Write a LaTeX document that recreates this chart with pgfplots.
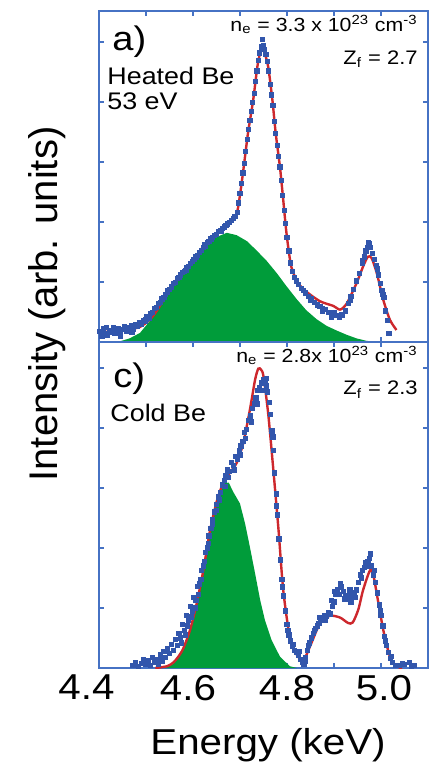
\documentclass[border=0pt]{standalone}
\usepackage{fontspec}
\setmainfont{Liberation Sans}[FakeStretch=1.12]
\newfontfamily\ylabfont{Liberation Sans}
\usepackage{pgfplots}
\pgfplotsset{compat=1.18}

\definecolor{axisBlue}{RGB}{70,114,196}
\definecolor{dataBlue}{RGB}{50,86,172}
\definecolor{fitRed}{RGB}{205,40,45}
\definecolor{bandGreen}{RGB}{0,156,58}

% invisible spacer used to nudge individual tick labels sideways
\newcommand{\pad}[1]{\rule{#1}{0pt}}

\pgfplotsset{
  panel/.style={
    scale only axis, width=164.5pt,
    xmin=4.4, xmax=5.1, ymin=0,
    axis line style={axisBlue, line width=0.9pt},
    tick style={axisBlue, line width=0.7pt},
    tick align=inside, xtick pos=both, ytick pos=both,
    major tick length=2.6pt, minor tick length=2.6pt,
    ytick={1,2,3,4,5}, yticklabels={},
    /pgf/number format/assume math mode=true,
  },
  data/.style={only marks, mark=square*, mark size=1.05pt, color=dataBlue},
  fit/.style={fitRed, line width=1.2pt, smooth, tension=0.45},
  band/.style={fill=bandGreen, draw=none},
}

\begin{document}
\begin{tikzpicture}
\useasboundingbox (0,0) rectangle (220pt,384pt);

% ---------------- panel a) : heated Be ----------------
\begin{axis}[panel, at={(49.5pt,213pt)}, anchor=south west,
  height=165.5pt, ymax=5.517,
  xtick={4.4,4.5,4.6,4.7,4.8,4.9,5.0,5.1}, xticklabels={}]
\addplot[band] coordinates {
 (4.440,0.00) (4.465,0.06) (4.487,0.15) (4.505,0.32) (4.523,0.50) (4.540,0.72)
 (4.558,0.95) (4.576,1.15) (4.594,1.33) (4.612,1.49) (4.629,1.62) (4.650,1.75)
 (4.672,1.82) (4.693,1.78) (4.715,1.68) (4.736,1.52) (4.757,1.35) (4.778,1.15)
 (4.799,0.93) (4.820,0.72) (4.841,0.53) (4.863,0.38) (4.884,0.27) (4.906,0.19)
 (4.927,0.12) (4.948,0.06) (4.969,0.02) (4.990,0.00)
} \closedcycle;
\addplot[fit] coordinates {
 (4.400,0.16) (4.430,0.18) (4.460,0.21) (4.487,0.25) (4.509,0.38) (4.523,0.52)
 (4.537,0.70) (4.551,0.88) (4.565,1.04) (4.580,1.18) (4.594,1.31) (4.608,1.45)
 (4.622,1.59) (4.636,1.71) (4.650,1.81) (4.665,1.91) (4.679,2.00) (4.693,2.14)
 (4.700,2.45) (4.708,2.92) (4.717,3.48) (4.728,4.03) (4.737,4.59) (4.743,4.82)
 (4.748,4.88) (4.753,4.80) (4.760,4.59) (4.769,4.03) (4.776,3.48) (4.785,2.92)
 (4.792,2.37) (4.799,1.81) (4.809,1.26) (4.824,0.98) (4.841,0.84) (4.870,0.68)
 (4.899,0.60) (4.913,0.54) (4.927,0.64) (4.948,0.98) (4.962,1.26) (4.972,1.42)
 (4.980,1.40) (4.991,1.15) (5.005,0.70) (5.019,0.37) (5.033,0.20)
};
\addplot[data] coordinates {
 (4.402,0.18) (4.406,0.10) (4.410,0.22) (4.414,0.15) (4.418,0.12) (4.422,0.20)
 (4.426,0.16) (4.430,0.24) (4.434,0.14) (4.438,0.19) (4.442,0.23) (4.446,0.15)
 (4.450,0.21) (4.454,0.26) (4.458,0.18) (4.462,0.24) (4.466,0.20) (4.470,0.28)
 (4.474,0.22) (4.478,0.30) (4.482,0.26) (4.486,0.33) (4.490,0.30) (4.494,0.36)
 (4.498,0.34) (4.502,0.42) (4.506,0.40) (4.510,0.48) (4.514,0.50) (4.518,0.56)
 (4.522,0.58) (4.526,0.64) (4.530,0.66) (4.534,0.72) (4.538,0.74) (4.542,0.80)
 (4.546,0.83) (4.550,0.88) (4.554,0.92) (4.558,0.98) (4.562,1.00) (4.566,1.06)
 (4.570,1.08) (4.574,1.12) (4.578,1.16) (4.582,1.18) (4.586,1.24) (4.590,1.26)
 (4.594,1.31) (4.598,1.35) (4.602,1.38) (4.606,1.42) (4.610,1.45) (4.614,1.50)
 (4.618,1.53) (4.622,1.58) (4.626,1.60) (4.630,1.66) (4.634,1.68) (4.638,1.72)
 (4.642,1.74) (4.646,1.78) (4.650,1.80) (4.654,1.84) (4.658,1.86) (4.662,1.89)
 (4.666,1.92) (4.670,1.95) (4.674,1.97) (4.678,2.00) (4.682,2.03) (4.686,2.06)
 (4.690,2.10) (4.694,2.16) (4.697,2.32) (4.700,2.48) (4.703,2.64) (4.706,2.82)
 (4.709,2.98) (4.712,3.18) (4.715,3.38) (4.718,3.55) (4.721,3.70) (4.724,3.85)
 (4.727,4.00) (4.730,4.15) (4.733,4.35) (4.736,4.52) (4.739,4.70) (4.742,4.82)
 (4.745,4.92) (4.747,5.05) (4.749,4.95) (4.752,4.88) (4.755,4.80) (4.758,4.68)
 (4.761,4.52) (4.764,4.30) (4.767,4.12) (4.770,3.95) (4.773,3.68) (4.776,3.48)
 (4.779,3.28) (4.782,3.10) (4.785,2.92) (4.788,2.70) (4.791,2.45) (4.794,2.20)
 (4.797,1.98) (4.800,1.75) (4.804,1.52) (4.808,1.32) (4.812,1.18) (4.816,1.08)
 (4.820,1.02) (4.825,0.96) (4.830,0.90) (4.835,0.86) (4.840,0.82) (4.846,0.76)
 (4.852,0.72) (4.858,0.66) (4.864,0.62) (4.870,0.60) (4.876,0.56) (4.882,0.54)
 (4.888,0.50) (4.894,0.48) (4.900,0.50) (4.906,0.44) (4.912,0.42) (4.918,0.44)
 (4.924,0.52) (4.930,0.64) (4.936,0.76) (4.942,0.88) (4.948,1.02) (4.954,1.15)
 (4.960,1.32) (4.964,1.42) (4.968,1.52) (4.972,1.58) (4.975,1.64) (4.978,1.58)
 (4.982,1.48) (4.986,1.38) (4.990,1.28) (4.994,1.12) (4.998,0.98) (5.002,0.86)
 (5.006,0.74) (5.010,0.52) (5.014,0.36) (5.017,0.14)
 (4.415,0.25) (4.445,0.09) (4.470,0.16) (4.500,0.38) (4.545,0.86) (4.585,1.20)
 (4.625,1.63) (4.660,1.85) (4.688,2.09) (4.850,0.70) (4.875,0.52) (4.895,0.42)
 (4.915,0.46) (4.935,0.70) (4.960,1.36) (4.973,1.66) (4.992,1.22) (5.004,0.80)
};
\end{axis}

% ---------------- panel c) : cold Be ----------------
\begin{axis}[panel, at={(49.5pt,50pt)}, anchor=south west,
  height=163pt, ymax=5.433,
  xtick={4.4,4.6,4.8,5.0},
  xticklabels={4.4\pad{12.5pt}, 4.6\pad{5pt}, 4.8, \pad{3pt}5.0},
  minor xtick={4.5,4.7,4.9,5.1},
  xticklabel style={font=\fontsize{18}{21}\selectfont}]
\addplot[band] coordinates {
 (4.540,0.00) (4.556,0.06) (4.565,0.13) (4.579,0.30) (4.594,0.63) (4.608,1.08)
 (4.622,1.63) (4.636,2.25) (4.650,2.72) (4.660,2.98) (4.668,3.08) (4.676,3.09)
 (4.686,2.93) (4.700,2.74) (4.711,2.40) (4.721,2.02) (4.732,1.58) (4.743,1.13)
 (4.753,0.80) (4.767,0.47) (4.785,0.19) (4.806,0.03) (4.821,0.00)
} \closedcycle;
\addplot[fit] coordinates {
 (4.520,0.00) (4.545,0.03) (4.558,0.09) (4.568,0.18) (4.579,0.32) (4.594,0.64)
 (4.608,1.08) (4.622,1.63) (4.636,2.28) (4.650,2.76) (4.664,3.08) (4.679,3.26)
 (4.693,3.42) (4.707,3.75) (4.721,4.30) (4.732,4.80) (4.739,4.99) (4.745,4.97)
 (4.750,4.86) (4.760,4.24) (4.771,3.30) (4.782,2.30) (4.792,1.30) (4.806,0.52)
 (4.821,0.22) (4.835,0.13) (4.849,0.36) (4.870,0.74) (4.891,0.87) (4.913,0.84)
 (4.930,0.75) (4.940,0.76) (4.952,0.98) (4.962,1.30) (4.977,1.63) (4.985,1.50)
 (4.991,1.24) (5.005,0.63) (5.019,0.19) (5.033,0.03) (5.045,0.00)
};
\addplot[data] coordinates {
 (4.472,0.05) (4.478,0.10) (4.484,0.03) (4.490,0.08) (4.495,0.14) (4.500,0.06)
 (4.505,0.12) (4.510,0.04) (4.514,0.18) (4.518,0.09) (4.522,0.15) (4.526,0.06)
 (4.530,0.22) (4.534,0.12) (4.538,0.28) (4.542,0.18) (4.546,0.32) (4.550,0.24)
 (4.554,0.40) (4.558,0.30) (4.562,0.48) (4.566,0.38) (4.570,0.58) (4.574,0.50)
 (4.578,0.72) (4.582,0.62) (4.586,0.88) (4.590,0.80) (4.594,1.02) (4.598,0.95)
 (4.602,1.18) (4.606,1.12) (4.610,1.36) (4.614,1.40) (4.618,1.62) (4.622,1.70)
 (4.626,1.92) (4.630,2.00) (4.634,2.20) (4.638,2.32) (4.642,2.48) (4.646,2.60)
 (4.650,2.72) (4.654,2.85) (4.658,2.92) (4.662,3.05) (4.666,3.12) (4.670,3.20)
 (4.674,3.30) (4.678,3.28) (4.682,3.42) (4.686,3.38) (4.690,3.52) (4.694,3.48)
 (4.698,3.62) (4.702,3.70) (4.706,3.78) (4.710,3.92) (4.714,3.98) (4.718,4.12)
 (4.722,4.20) (4.726,4.32) (4.730,4.40) (4.734,4.50) (4.738,4.62) (4.742,4.68)
 (4.746,4.75) (4.750,4.80) (4.753,4.78) (4.756,4.70) (4.759,4.60) (4.762,4.42)
 (4.765,4.22) (4.768,3.95) (4.771,3.62) (4.774,3.25) (4.777,2.90) (4.780,2.55)
 (4.783,2.15) (4.786,1.80) (4.789,1.48) (4.792,1.20) (4.796,0.95) (4.800,0.72)
 (4.804,0.55) (4.808,0.45) (4.812,0.36) (4.816,0.30) (4.820,0.26) (4.824,0.22)
 (4.828,0.15) (4.832,0.10) (4.836,0.06) (4.840,0.18) (4.844,0.30) (4.848,0.42)
 (4.852,0.50) (4.856,0.58) (4.860,0.66) (4.864,0.70) (4.868,0.74) (4.872,0.80)
 (4.876,0.84) (4.880,0.88) (4.884,0.86) (4.888,0.92) (4.892,0.90) (4.896,1.02)
 (4.900,1.10) (4.904,1.22) (4.908,1.30) (4.912,1.22) (4.916,1.35) (4.920,1.28)
 (4.924,1.20) (4.928,1.15) (4.932,1.25) (4.936,1.10) (4.940,1.18) (4.944,1.25)
 (4.948,1.30) (4.952,1.42) (4.956,1.55) (4.960,1.62) (4.964,1.68) (4.968,1.75)
 (4.972,1.78) (4.976,1.82) (4.980,1.70) (4.984,1.55) (4.988,1.42) (4.992,1.25)
 (4.996,1.05) (5.000,0.88) (5.004,0.70) (5.008,0.52) (5.012,0.38) (5.016,0.26)
 (5.020,0.16) (5.024,0.10) (5.030,0.05) (5.040,0.04) (5.050,0.06) (5.060,0.10)
 (5.070,0.04)
 (4.575,0.42) (4.583,0.55) (4.588,0.70) (4.596,0.85) (4.604,1.00) (4.612,1.22)
 (4.617,1.48) (4.625,1.78) (4.633,2.08) (4.641,2.40) (4.649,2.62) (4.657,2.80)
 (4.668,3.02) (4.676,3.18) (4.688,3.30) (4.700,3.55) (4.712,3.82) (4.724,4.10)
 (4.736,4.40) (4.748,4.62) (4.757,4.82) (4.770,3.85) (4.778,2.70) (4.790,1.35)
 (4.802,0.62) (4.814,0.40) (4.826,0.28) (4.838,0.12) (4.846,0.38) (4.858,0.62)
 (4.870,0.84) (4.882,0.80) (4.894,1.12) (4.902,1.28) (4.914,1.40) (4.922,1.15)
 (4.934,1.30) (4.946,1.18) (4.958,1.50) (4.970,1.70) (4.978,1.90) (4.986,1.62)
 (4.998,0.95) (5.010,0.45) (5.022,0.20) (5.045,0.08) (5.065,0.03)
};
\end{axis}

% panel annotations
\begin{scope}[every node/.style={inner sep=0pt}]
\node[anchor=base west, font=\fontsize{17}{20}\selectfont] at (56pt,359pt) {a)};
\node[anchor=base west, font=\fontsize{12}{14}\selectfont] at (53.5pt,341.5pt) {Heated Be};
\node[anchor=base west, font=\fontsize{12}{14}\selectfont] at (53.5pt,329pt) {53 eV};
\node[anchor=base east, font=\fontsize{9.5}{11}\selectfont] at (209pt,368pt)
  {n\textsubscript{e} = 3.3 x 10\textsuperscript{23} cm\textsuperscript{-3}};
\node[anchor=base east, font=\fontsize{9.8}{11}\selectfont] at (209pt,352pt)
  {Z\textsubscript{f} = 2.7};

\node[anchor=base west, font=\fontsize{17}{20}\selectfont] at (56.5pt,190pt) {c)};
\node[anchor=base west, font=\fontsize{12}{14}\selectfont] at (55pt,173pt) {Cold Be};
\node[anchor=base east, font=\fontsize{9.5}{11}\selectfont] at (209pt,202.5pt)
  {n\textsubscript{e} = 2.8x 10\textsuperscript{23} cm\textsuperscript{-3}};
\node[anchor=base east, font=\fontsize{9.8}{11}\selectfont] at (209pt,186.5pt)
  {Z\textsubscript{f} = 2.3};

% axis titles
\node[anchor=base, font=\fontsize{18}{22}\selectfont] at (134pt,6.5pt) {Energy (keV)};
\node[anchor=base, rotate=90, font=\ylabfont\fontsize{20}{24}\selectfont] at (29pt,232pt)
  {Intensity (arb. units)};
\end{scope}
\end{tikzpicture}
\end{document}
